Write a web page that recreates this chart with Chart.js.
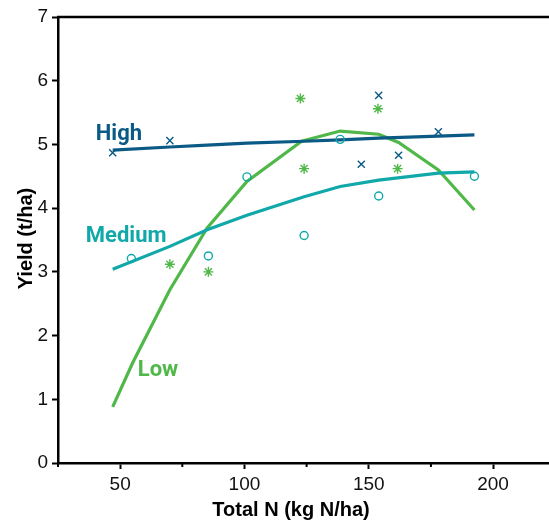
<!DOCTYPE html>
<html>
<head>
<meta charset="utf-8">
<script src="https://cdn.jsdelivr.net/npm/chart.js@4"></script>
<style>
  html, body { margin: 0; padding: 0; background: #fff; }
  #wrap { width: 549px; height: 522px; }
</style>
</head>
<body>
<div id="wrap"><canvas id="c" width="549" height="522"></canvas></div>
<script>
// Fitted response curves (x = Total N, y = yield)
const highLineX = [47, 70, 85, 101, 124, 138.5, 154, 178, 192.5];
const highLineY = [4.91, 4.96, 4.99, 5.02, 5.05, 5.07, 5.10, 5.13, 5.15];
const medLineX  = [47, 70, 85, 101, 124, 138.5, 154, 178, 192.5];
const medLineY  = [3.04, 3.40, 3.66, 3.89, 4.18, 4.34, 4.44, 4.55, 4.57];
const lowLineX  = [47, 55, 70, 85, 101, 123, 138.5, 154, 162, 178, 192.5];
const lowLineY  = [0.88, 1.57, 2.72, 3.69, 4.42, 5.05, 5.21, 5.16, 5.03, 4.60, 3.97];

// Observed points
const highPtsX = [47, 70, 147, 154, 162, 178];
const highPtsY = [4.87, 5.06, 4.69, 5.77, 4.83, 5.20];
const medPtsX  = [54.5, 85.5, 101, 124, 138.5, 154, 192.5];
const medPtsY  = [3.21, 3.25, 4.49, 3.57, 5.08, 4.19, 4.50];
const lowPtsX  = [70, 85.5, 122.5, 124, 153.7, 161.6];
const lowPtsY  = [3.12, 3.00, 5.72, 4.62, 5.56, 4.62];

// Axis ticks
const xMajorTicks = [50, 100, 150, 200];
const xMinorTicks = [25, 75, 125, 175];
const yTicks = [0, 1, 2, 3, 4, 5, 6, 7];

// Series labels
const seriesNames = ['High', 'Medium', 'Low'];

const COL_HIGH = '#0b5a86';
const COL_MED  = '#10a8a8';
const COL_LOW  = '#4fb848';

const zip = (xs, ys) => xs.map((x, i) => ({ x: x, y: ys[i] }));

const lineDs = (xs, ys, col) => ({
  data: zip(xs, ys), showLine: true, borderColor: col, borderWidth: 3.2,
  pointRadius: 0, tension: 0, fill: false, order: 1
});
const ptDs = (xs, ys, col, style, r) => ({
  data: zip(xs, ys), showLine: false, borderColor: col, backgroundColor: 'rgba(255,255,255,0)',
  pointStyle: style, pointRadius: r, pointBorderWidth: 1.4, order: 0
});

const extras = {
  id: 'extras',
  afterDraw(chart) {
    const { ctx, chartArea, scales } = chart;
    const xs = scales.x, ys = scales.y;
    ctx.save();
    // top frame line
    ctx.strokeStyle = '#000';
    ctx.lineWidth = 2.5;
    ctx.beginPath();
    ctx.moveTo(chartArea.left - 1, chartArea.top);
    ctx.lineTo(chart.width, chartArea.top);
    ctx.stroke();
    // minor x ticks
    ctx.lineWidth = 2;
    xMinorTicks.forEach(v => {
      const px = xs.getPixelForValue(v);
      ctx.beginPath();
      ctx.moveTo(px, chartArea.bottom);
      ctx.lineTo(px, chartArea.bottom + 4);
      ctx.stroke();
    });
    // axis titles
    ctx.fillStyle = '#000';
    ctx.font = 'bold 20px "Liberation Sans", Arial, sans-serif';
    ctx.textAlign = 'center';
    ctx.textBaseline = 'alphabetic';
    ctx.fillText('Total N (kg N/ha)', 291, 516);
    ctx.translate(31.5, 238.5);
    ctx.rotate(-Math.PI / 2);
    ctx.fillText('Yield (t/ha)', 0, 0);
    ctx.restore();

    // series labels
    ctx.save();
    ctx.font = 'bold 22px Roboto, "Open Sans", sans-serif';
    ctx.textAlign = 'left';
    ctx.textBaseline = 'alphabetic';
    const lab = [
      [seriesNames[0], 40.2, 5.07, COL_HIGH],
      [seriesNames[1], 36.2, 3.47, COL_MED],
      [seriesNames[2], 57.1, 1.36, COL_LOW]
    ];
    lab.forEach(([t, vx, vy, c]) => {
      ctx.fillStyle = c;
      ctx.fillText(t, xs.getPixelForValue(vx), ys.getPixelForValue(vy));
    });
    ctx.restore();
  }
};

new Chart(document.getElementById('c'), {
  type: 'scatter',
  data: {
    datasets: [
      lineDs(highLineX, highLineY, COL_HIGH),
      lineDs(medLineX, medLineY, COL_MED),
      lineDs(lowLineX, lowLineY, COL_LOW),
      ptDs(highPtsX, highPtsY, COL_HIGH, 'crossRot', 5),
      ptDs(medPtsX, medPtsY, COL_MED, 'circle', 4),
      ptDs(lowPtsX, lowPtsY, COL_LOW, 'star', 5)
    ]
  },
  options: {
    responsive: false,
    animation: false,
    devicePixelRatio: 1,
    layout: { autoPadding: false, padding: { top: 17, left: 0, right: 0, bottom: 0 } },
    plugins: { legend: { display: false }, tooltip: { enabled: false } },
    scales: {
      x: {
        type: 'linear', min: 25, max: 222.5,
        afterFit: s => { s.height = 59; s.paddingRight = 0; s.paddingLeft = 0; },
        afterBuildTicks: s => { s.ticks = xMajorTicks.map(v => ({ value: v })); },
        ticks: { font: { family: '"Liberation Sans", Arial, sans-serif', size: 19 }, color: '#111', padding: 4, maxRotation: 0 },
        grid: { drawOnChartArea: false, drawTicks: true, tickLength: 6, tickWidth: 2, tickColor: '#000' },
        border: { color: '#000', width: 2.5 }
      },
      y: {
        type: 'linear', min: 0, max: 7,
        afterFit: s => { s.width = 58; s.paddingTop = 0; s.paddingBottom = 0; },
        afterBuildTicks: s => { s.ticks = yTicks.map(v => ({ value: v })); },
        ticks: { font: { family: '"Liberation Sans", Arial, sans-serif', size: 19 }, color: '#111', padding: 4 },
        grid: { drawOnChartArea: false, drawTicks: true, tickLength: 6, tickWidth: 2, tickColor: '#000' },
        border: { color: '#000', width: 2.5 }
      }
    }
  },
  plugins: [extras]
});
</script>
</body>
</html>
